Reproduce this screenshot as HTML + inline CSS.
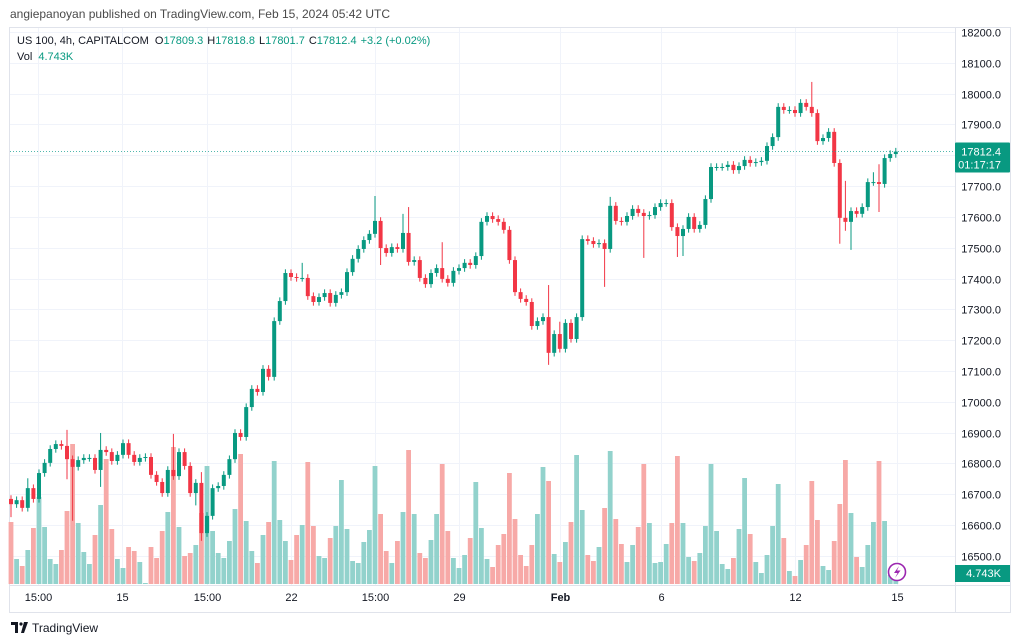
<!DOCTYPE html>
<html><head><meta charset="utf-8">
<style>
html,body{margin:0;padding:0;background:#fff;}
svg{display:block;font-family:"Liberation Sans",sans-serif;}
</style></head>
<body>
<svg id="chart" width="1024" height="643" viewBox="0 0 1024 643" xmlns="http://www.w3.org/2000/svg">
<rect x="0" y="0" width="1024" height="643" fill="#fff"/>
<text x="10" y="18" font-size="12" fill="#4a4a4a">angiepanoyan published on TradingView.com, Feb 15, 2024 05:42 UTC</text>
<g id="grid"></g>
<rect x="9.5" y="27.5" width="1001" height="585" fill="none" stroke="#e0e3eb"/>
<line x1="955.5" y1="27" x2="955.5" y2="612" stroke="#e0e3eb"/>
<line x1="10" y1="585.5" x2="1010" y2="585.5" stroke="#e0e3eb"/>
<g id="vols"></g>
<g id="candles"></g>
<g id="axes"></g>
<g font-size="11">
<text x="17" y="44" fill="#131722">US 100, 4h, CAPITALCOM <tspan dx="3">O</tspan><tspan fill="#089981">17809.3</tspan><tspan dx="4">H</tspan><tspan fill="#089981">17818.8</tspan><tspan dx="4">L</tspan><tspan fill="#089981">17801.7</tspan><tspan dx="4">C</tspan><tspan fill="#089981">17812.4</tspan><tspan dx="4" fill="#089981">+3.2 (+0.02%)</tspan></text>
<text x="17" y="60" fill="#131722">Vol <tspan dx="3" fill="#089981">4.743K</tspan></text>
</g>
<g>
<circle cx="897" cy="572" r="8.5" fill="#fff" stroke="#9c27b0" stroke-width="1.6"/>
<path d="M899 566 L894 573 L897.5 573 L895 578 L900.5 570.5 L897 570.5 Z" fill="#9c27b0"/>
</g>
<g>
<path d="M11 622 h7 v11 h-3 v-8 h-4 z" fill="#131722"/>
<circle cx="21" cy="624" r="1.6" fill="#131722"/>
<path d="M24 622 h4 l-4 11 h-3 z" fill="#131722"/>
<text x="32" y="632" font-size="12" fill="#131722">TradingView</text>
</g>
</svg>
<script>
const closes=[16668,16681,16656,16720,16685,16769,16802,16847,16863,16857,
16814,16789,16811,16818,16818,16779,16844,16837,16808,16828,
16866,16828,16805,16818,16821,16763,16740,16704,16779,16759,
16837,16792,16704,16737,16574,16630,16720,16727,16763,16814,
16899,16886,16983,17042,17032,17107,17081,17262,17327,17418,
17405,17402,17402,17343,17324,17340,17353,17321,17347,17356,
17421,17464,17496,17525,17545,17587,17499,17483,17502,17496,
17548,17454,17460,17402,17382,17418,17434,17399,17386,17425,
17434,17451,17444,17473,17584,17603,17593,17584,17558,17460,
17356,17334,17324,17246,17262,17275,17159,17220,17172,17256,
17204,17275,17528,17522,17512,17515,17496,17636,17587,17584,
17603,17626,17613,17603,17606,17632,17645,17645,17567,17538,
17561,17600,17561,17574,17658,17762,17762,17762,17769,17752,
17765,17785,17775,17778,17782,17830,17859,17957,17947,17947,
17937,17970,17957,17937,17846,17856,17876,17775,17597,17584,
17619,17610,17632,17713,17713,17707,17791,17804,17812];
const firstOpen=16685;
const wickUp=[12,12,12,32,12,12,12,12,12,12,
52,12,12,12,12,12,55,12,12,12,
12,12,12,12,12,12,12,12,12,117,
12,12,12,12,35,12,12,12,12,12,
12,12,12,12,12,12,12,12,12,12,
12,12,49,12,12,12,12,12,12,12,
12,12,12,12,12,81,12,12,12,12,
62,84,12,12,12,12,12,84,12,12,
12,12,12,12,12,12,12,12,12,12,
12,12,12,12,12,12,104,12,40,12,
12,12,12,12,12,12,12,29,12,12,
12,12,12,12,12,12,12,12,12,12,
12,12,12,12,12,12,12,12,12,12,
12,12,12,12,12,12,12,12,12,12,
12,12,12,81,12,12,12,12,12,120,
12,12,12,12,32,58,12,12,12];
const wickDn=[42,12,12,12,12,12,12,12,12,12,
65,175,12,12,12,12,55,12,12,12,
12,12,12,12,12,12,12,12,12,12,
12,12,12,40,25,12,12,12,12,12,
12,12,12,12,12,12,12,12,12,12,
12,12,12,12,12,12,12,12,12,12,
12,12,12,12,12,12,55,12,12,12,
12,12,12,12,12,12,12,12,12,12,
12,12,12,12,12,12,12,12,12,12,
12,12,12,12,12,12,39,12,12,12,
12,12,12,12,12,12,123,12,12,12,
12,12,12,136,12,12,12,12,12,68,
65,12,12,12,12,12,12,12,12,12,
12,12,12,12,12,12,12,12,12,12,
12,12,12,12,12,12,12,12,84,29,
91,12,12,12,12,91,12,12,12];
const volumes=[6.2,2.5,1.8,3.4,5.6,8.7,5.7,2.5,2.0,3.4,
7.3,14.0,6.1,3.2,2.0,4.9,7.9,12.5,5.5,2.5,
1.6,3.7,3.3,2.2,0.1,3.7,2.6,5.3,7.2,13.7,
5.7,2.8,3.1,3.9,7.1,11.8,5.3,3.1,2.6,4.3,
7.5,13.0,6.3,3.3,2.1,4.9,6.2,12.3,6.4,4.3,
2.4,4.9,5.9,12.2,5.8,2.8,2.6,4.6,5.8,10.4,
5.5,2.3,2.1,4.2,5.4,11.8,7.0,3.3,2.1,4.3,
7.2,13.4,7.0,3.1,2.6,4.4,7.0,12.0,5.3,2.6,
1.6,2.9,4.6,10.2,5.6,2.5,1.7,3.9,5.0,11.1,
6.5,2.9,1.8,3.9,7.0,11.7,10.3,3.0,2.2,4.2,
6.2,12.9,7.4,2.9,2.3,3.7,7.6,13.3,6.5,4.0,
2.2,3.9,5.7,12.0,6.1,2.1,2.2,4.0,6.1,12.8,
6.1,2.7,2.3,3.1,5.8,12.0,5.3,2.0,1.5,2.6,
5.5,10.6,5.0,2.2,1.1,2.9,5.8,10.0,4.6,1.3,
0.8,2.4,3.9,10.3,6.4,1.8,1.4,4.3,8.0,12.4,
7.1,2.7,1.7,3.9,6.2,12.3,6.3,0.9,0.4];
const priceTicks=[18200,18100,18000,17900,17800,17700,17600,17500,17400,17300,17200,17100,17000,16900,16800,16700,16600,16500];
const timeLabels=["15:00","15","15:00","22","15:00","29","Feb","6","12","15"];
const timeLabelIdx=[4.8,19.8,35,50,65,80,98,116,140,158.2];
const lastPrice=17812.4;

const NS="http://www.w3.org/2000/svg";
function yP(p){return 32+(18200-p)*0.3082;}
function xI(i){return 11+5.6*i;}
function yV(v){return 584-v*10;}
function mk(tag,attrs,parent){const e=document.createElementNS(NS,tag);for(const k in attrs)e.setAttribute(k,attrs[k]);parent.appendChild(e);return e;}
const grid=document.getElementById('grid'),axes=document.getElementById('axes'),cg=document.getElementById('candles'),vg=document.getElementById('vols');
priceTicks.forEach(p=>{
  const y=Math.round(yP(p))+0.5;
  const l=mk('line',{x1:10,x2:955,y1:y,y2:y,stroke:'#f0f3fa'},grid);
  
  
  const t=mk('text',{x:1001,y:y+4,'font-size':11,fill:'#131722','text-anchor':'end'},axes);
  t.textContent=p.toFixed(1);
  
  
});
timeLabels.forEach((s,k)=>{
  const x=Math.round(xI(timeLabelIdx[k]))+0.5;
  const l=mk('line',{x1:x,x2:x,y1:28,y2:585,stroke:'#f0f3fa'},grid);
  
  
  const t=mk('text',{x:x,y:601,'font-size':11,fill:'#131722','text-anchor':'middle','font-weight':s==='Feb'?'bold':'normal'},axes);
  t.textContent=s;
  
  
});
closes.forEach((c,i)=>{
  const o=i===0?firstOpen:closes[i-1];
  const up=c>=o;
  const x=xI(i);
  const vr=mk('rect',{x:x-2.4,y:yV(volumes[i]),width:4.8,height:volumes[i]*10,fill:up?'#92d2cc':'#f7a9a7'},vg);
  
  
  const hi=Math.max(o,c)+wickUp[i],lo=Math.min(o,c)-wickDn[i];
  const col=up?'#089981':'#f23645';
  const w=mk('line',{x1:x,x2:x,y1:yP(hi),y2:yP(lo),stroke:col,'stroke-width':1},cg);
  
  
  const top=yP(Math.max(o,c)),bot=yP(Math.min(o,c));
  const b=mk('rect',{x:x-2,y:top,width:4,height:Math.max(1,bot-top),fill:col},cg);
  
  
});
const ly=Math.round(yP(lastPrice))+0.5;
const pl=mk('line',{x1:10,x2:955,y1:ly,y2:ly,stroke:'#26a69a','stroke-opacity':0.8,'stroke-dasharray':'1 2'},axes);


const pb=mk('rect',{x:955,y:ly-9,width:55,height:30,fill:'#089981',rx:1},axes);


const pt=mk('text',{x:1001,y:ly+4,'font-size':11,fill:'#fff','text-anchor':'end'},axes);
pt.textContent=lastPrice.toFixed(1);


const ct=mk('text',{x:1001,y:ly+17,'font-size':11,fill:'#fff','text-anchor':'end'},axes);
ct.textContent='01:17:17';


const vb=mk('rect',{x:955,y:565,width:55,height:17,fill:'#089981'},axes);


const vt=mk('text',{x:1001,y:577,'font-size':11,fill:'#fff','text-anchor':'end'},axes);
vt.textContent='4.743K';


</script>
</body></html>
